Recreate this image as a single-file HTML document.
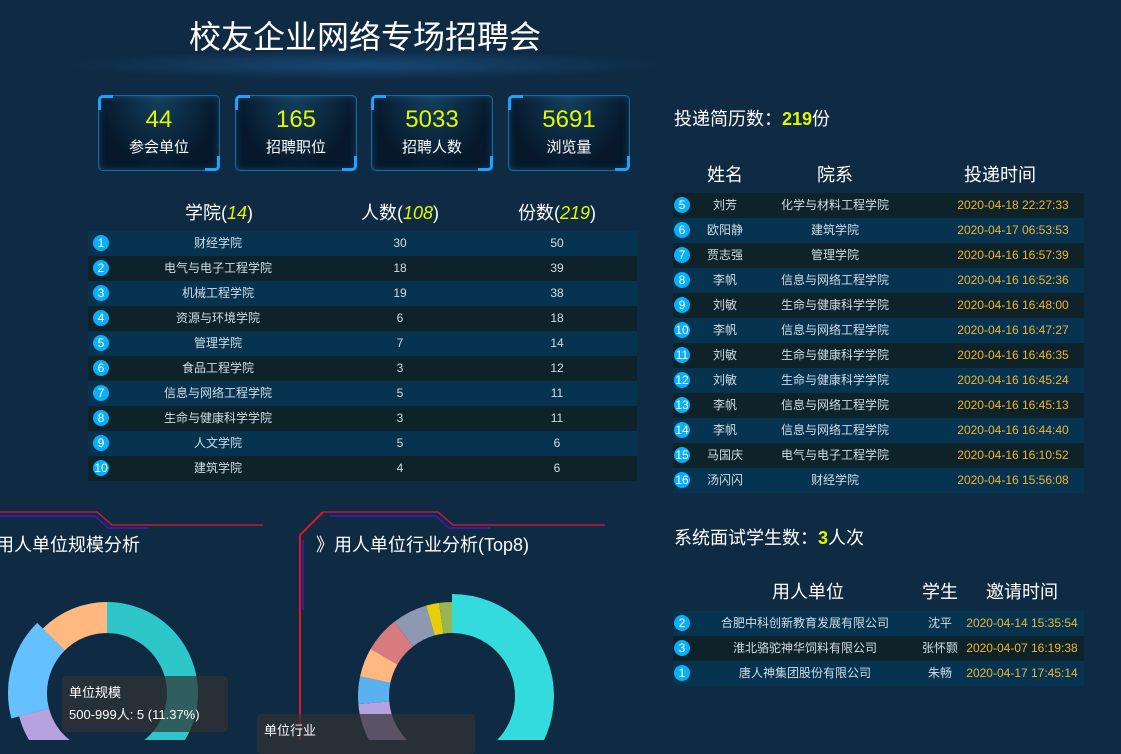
<!DOCTYPE html>
<html><head><meta charset="utf-8">
<style>
*{margin:0;padding:0;box-sizing:border-box}
body{width:1121px;height:740px;background:#0f2a43;overflow:hidden;position:relative;font-family:"Liberation Sans","Noto Sans CJK SC",sans-serif;color:#fff}
.a{position:absolute}
.title{left:0;width:730px;top:12px;text-align:center;font-size:32px;color:#fff}
.glow{left:60px;top:50px;width:610px;height:30px;background:radial-gradient(ellipse at 50% 50%,rgba(30,110,180,.45),rgba(15,42,67,0) 70%)}
.box{width:122px;height:76px;top:95px;border:1px solid #1c6aa0;border-radius:5px;background:radial-gradient(ellipse at 50% 0%,#14405e,#06182a 70%);text-align:center;box-shadow:inset 0 0 8px rgba(40,140,220,.4)}
.box b{display:block;font-weight:normal;color:#e2f700;font-size:24px;margin-top:10px;line-height:28px}
.box span{display:block;font-size:15px;margin-top:2px}
.box:before{content:"";position:absolute;left:-1px;top:-1px;width:12px;height:12px;border-left:3px solid #1aa3ff;border-top:3px solid #1aa3ff;border-radius:5px 0 0 0}
.box:after{content:"";position:absolute;right:-1px;bottom:-1px;width:12px;height:12px;border-right:3px solid #1aa3ff;border-bottom:3px solid #1aa3ff;border-radius:0 0 5px 0}
.row{position:absolute;height:25px;font-size:12px;color:#d0dde6;line-height:25px}
.l{background:#06334f}.d{background:#0e2229}
.c{position:absolute;width:16px;height:16px;border-radius:50%;background:#06b0fb;color:#fff;font-size:12px;line-height:16px;text-align:center;top:4px}
.t{position:absolute;text-align:center;transform:translateX(-50%);white-space:nowrap}
.o{color:#f0b532}
.h{position:absolute;font-size:18px;transform:translateX(-50%);white-space:nowrap}
.y{color:#e2f700;font-style:italic}
.tip{background:rgba(50,50,50,.7);border-radius:4px;font-size:13px;color:#fff;padding:6px 7px;line-height:22px}
</style></head><body>
<div class="a glow"></div>
<div class="a title">校友企业网络专场招聘会</div>
<div class="a box" style="left:98px"><b>44</b><span>参会单位</span></div>
<div class="a box" style="left:235px"><b>165</b><span>招聘职位</span></div>
<div class="a box" style="left:371px"><b>5033</b><span>招聘人数</span></div>
<div class="a box" style="left:508px"><b>5691</b><span>浏览量</span></div>

<div class="h" style="left:219px;top:199px">学院(<span class="y">14</span>)</div>
<div class="h" style="left:400px;top:199px">人数(<span class="y">108</span>)</div>
<div class="h" style="left:557px;top:199px">份数(<span class="y">219</span>)</div>

<div id="lt"></div>

<div class="a" style="left:674px;top:105px;font-size:18px">投递简历数：<b style="color:#e2f700">219</b>份</div>
<div class="h" style="left:725px;top:161px">姓名</div>
<div class="h" style="left:835px;top:161px">院系</div>
<div class="h" style="left:1000px;top:161px">投递时间</div>
<div id="rt"></div>

<div class="a" style="left:674px;top:524px;font-size:18px">系统面试学生数：<b style="color:#e2f700">3</b>人次</div>
<div class="h" style="left:808px;top:578px">用人单位</div>
<div class="h" style="left:940px;top:578px">学生</div>
<div class="h" style="left:1022px;top:578px">邀请时间</div>
<div id="bt"></div>

<svg class="a" style="left:0;top:0" width="1121" height="740">
<g fill="none" stroke-width="1.5">
<polyline points="0,512 97,512 112,525 263,525" stroke="#c0193d"/>
<polyline points="0,516 95,516 108,528 148,528" stroke="#4a1ab0"/>
<polyline points="323,512 438,512 453,525 605,525" stroke="#c0193d"/>
<polyline points="330,516 436,516 449,528 490,528" stroke="#4a1ab0"/>
<polyline points="323,512 300,535 300,740" stroke="#e0142f" stroke-width="2"/>
<line x1="303" y1="540" x2="303" y2="610" stroke="#4a1ab0"/>
</g>
<g transform="translate(107,693) rotate(-90)" fill="none">
<circle r="75.5" stroke="#2ec7c9" stroke-width="31" stroke-dasharray="210.9 474.4" stroke-dashoffset="0"/>
<circle r="75.5" stroke="#b6a2de" stroke-width="31" stroke-dasharray="125.2 474.4" stroke-dashoffset="-210.9"/>
<circle r="79.5" stroke="#64c0ff" stroke-width="39" stroke-dasharray="83.3 499.5" stroke-dashoffset="-353.8"/>
<circle r="75.5" stroke="#ffb980" stroke-width="31" stroke-dasharray="59.3 474.4" stroke-dashoffset="-415.1"/>
</g>
<g transform="translate(452,696) rotate(-90)" fill="none">
<circle r="82.5" stroke="#33dbdd" stroke-width="39" stroke-dasharray="316.8 518.4"/>
<circle r="78.5" stroke="#b6a2de" stroke-width="31" stroke-dasharray="61.7 493.2" stroke-dashoffset="-301.3"/>
<circle r="78.5" stroke="#5ab1ef" stroke-width="31" stroke-dasharray="23.3 493.2" stroke-dashoffset="-363"/>
<circle r="78.5" stroke="#ffb980" stroke-width="31" stroke-dasharray="24.7 493.2" stroke-dashoffset="-386.3"/>
<circle r="78.5" stroke="#d87a80" stroke-width="31" stroke-dasharray="30.1 493.2" stroke-dashoffset="-411"/>
<circle r="78.5" stroke="#8d98b3" stroke-width="31" stroke-dasharray="30.1 493.2" stroke-dashoffset="-441.1"/>
<circle r="78.5" stroke="#e5cf0d" stroke-width="31" stroke-dasharray="11 493.2" stroke-dashoffset="-471.2"/>
<circle r="78.5" stroke="#97b552" stroke-width="31" stroke-dasharray="11 493.2" stroke-dashoffset="-482.2"/>
</g>
</svg>
<div class="a" style="left:-4px;top:531px;font-size:18px">用人单位规模分析</div>
<div class="a" style="left:316px;top:531px;font-size:18px">》用人单位行业分析(Top8)</div>
<div class="a tip" style="left:62px;top:676px;width:166px">单位规模<br>500-999人: 5 (11.37%)</div>
<div class="a tip" style="left:257px;top:714px;width:218px;height:40px">单位行业</div>

<script>
function rows(id,x,w,y,cls,data,cols,cx){var h='';data.forEach(function(r,i){h+='<div class="row '+cls[i%2]+'" style="left:'+x+'px;width:'+w+'px;top:'+(y+i*25)+'px"><div class="c" style="left:'+cx+'px">'+r[0]+'</div>';for(var j=1;j<r.length;j++){h+='<div class="t'+(cols[j-1][1]?' o':'')+'" style="left:'+(cols[j-1][0]-x)+'px">'+r[j]+'</div>'}h+='</div>'});document.getElementById(id).innerHTML=h}
rows('lt',88,549,231,['l','d'],[[1,'财经学院',30,50],[2,'电气与电子工程学院',18,39],[3,'机械工程学院',19,38],[4,'资源与环境学院',6,18],[5,'管理学院',7,14],[6,'食品工程学院',3,12],[7,'信息与网络工程学院',5,11],[8,'生命与健康科学学院',3,11],[9,'人文学院',5,6],[10,'建筑学院',4,6]],[[218],[400],[557]],5);
rows('rt',673,411,193,['d','l'],[[5,'刘芳','化学与材料工程学院','2020-04-18 22:27:33'],[6,'欧阳静','建筑学院','2020-04-17 06:53:53'],[7,'贾志强','管理学院','2020-04-16 16:57:39'],[8,'李帆','信息与网络工程学院','2020-04-16 16:52:36'],[9,'刘敏','生命与健康科学学院','2020-04-16 16:48:00'],[10,'李帆','信息与网络工程学院','2020-04-16 16:47:27'],[11,'刘敏','生命与健康科学学院','2020-04-16 16:46:35'],[12,'刘敏','生命与健康科学学院','2020-04-16 16:45:24'],[13,'李帆','信息与网络工程学院','2020-04-16 16:45:13'],[14,'李帆','信息与网络工程学院','2020-04-16 16:44:40'],[15,'马国庆','电气与电子工程学院','2020-04-16 16:10:52'],[16,'汤闪闪','财经学院','2020-04-16 15:56:08']],[[725],[835],[1013,1]],1);
rows('bt',673,411,611,['l','d'],[[2,'合肥中科创新教育发展有限公司','沈平','2020-04-14 15:35:54'],[3,'淮北骆驼神华饲料有限公司','张怀颢','2020-04-07 16:19:38'],[1,'唐人神集团股份有限公司','朱畅','2020-04-17 17:45:14']],[[805],[940],[1022,1]],1);
</script>
</body></html>
